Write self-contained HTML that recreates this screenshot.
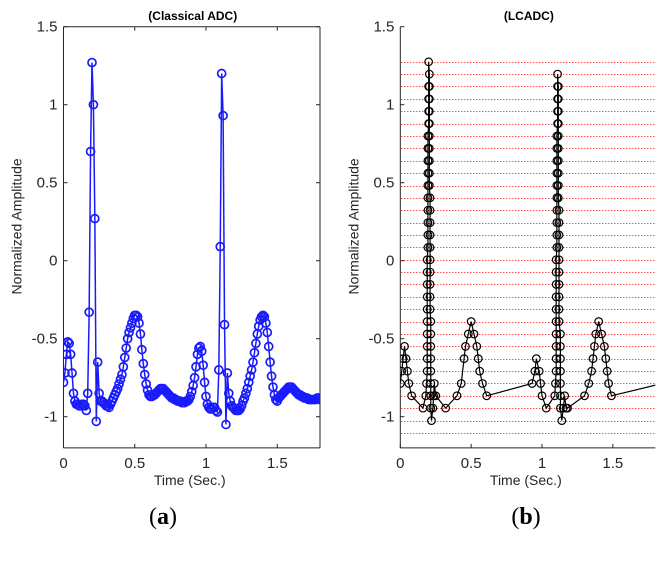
<!DOCTYPE html>
<html><head><meta charset="utf-8"><style>
body{margin:0;background:#fff;}
svg{display:block;font-family:"Liberation Sans",sans-serif;}
</style></head><body>
<svg id="fig" width="672" height="565" viewBox="0 0 672 565"></svg>
<script>
// ---- Data: classical ADC (t = 0..1.80 step 0.01) ----
const adcValues = [-0.78,-0.72,-0.60,-0.52,-0.53,-0.60,-0.72,-0.85,-0.90,-0.92,
-0.92,-0.93,-0.93,-0.92,-0.92,-0.93,-0.96,-0.85,-0.33,0.70,
1.27,1.00,0.27,-1.03,-0.65,-0.85,-0.90,-0.90,-0.91,-0.92,
-0.93,-0.93,-0.94,-0.92,-0.90,-0.88,-0.86,-0.84,-0.82,-0.79,
-0.76,-0.73,-0.68,-0.62,-0.56,-0.50,-0.46,-0.43,-0.40,-0.37,
-0.35,-0.35,-0.36,-0.40,-0.47,-0.57,-0.66,-0.73,-0.79,-0.83,
-0.86,-0.87,-0.87,-0.86,-0.86,-0.85,-0.84,-0.83,-0.82,-0.82,
-0.82,-0.83,-0.84,-0.85,-0.86,-0.87,-0.88,-0.88,-0.89,-0.89,
-0.90,-0.90,-0.90,-0.91,-0.91,-0.91,-0.90,-0.90,-0.89,-0.87,
-0.84,-0.80,-0.75,-0.68,-0.60,-0.56,-0.55,-0.58,-0.67,-0.78,
-0.87,-0.92,-0.94,-0.95,-0.95,-0.94,-0.94,-0.96,-0.97,-0.70,
0.09,1.20,0.93,-0.41,-1.05,-0.72,-0.85,-0.90,-0.93,-0.94,
-0.95,-0.96,-0.96,-0.96,-0.95,-0.93,-0.90,-0.88,-0.85,-0.82,
-0.78,-0.74,-0.70,-0.65,-0.59,-0.53,-0.47,-0.42,-0.38,-0.36,
-0.35,-0.36,-0.40,-0.46,-0.55,-0.65,-0.74,-0.81,-0.86,-0.89,
-0.90,-0.88,-0.87,-0.86,-0.85,-0.84,-0.83,-0.82,-0.81,-0.81,
-0.81,-0.82,-0.83,-0.84,-0.85,-0.86,-0.86,-0.87,-0.87,-0.88,
-0.88,-0.88,-0.89,-0.89,-0.89,-0.89,-0.89,-0.89,-0.88,-0.88,-0.89];
const adcStep = 0.01;
// ---- Data: LCADC quantization levels and samples ----
const levels = [-1.104,-1.025,-0.945,-0.866,-0.787,-0.708,-0.628,-0.549,-0.470,-0.390,
-0.311,-0.232,-0.152,-0.073,0.006,0.085,0.165,0.244,0.323,0.403,
0.482,0.561,0.641,0.720,0.799,0.879,0.958,1.037,1.117,1.196,1.275];
const lcTimes = [0.00,0.01,0.02,0.03,0.04,0.05,0.06,0.08,0.16,0.18,0.185,
0.19,0.19,0.19,0.19,0.19,0.19,0.19,0.19,0.19,0.19,0.195,0.195,0.195,0.195,0.195,0.195,0.195,0.195,0.195,0.195,0.20,0.20,0.20,0.20,0.20,
0.205,0.205,0.205,0.205,0.205,0.205,0.205,0.205,0.205,0.205,0.21,0.21,0.21,0.21,0.21,0.21,0.21,0.21,0.21,0.21,0.215,0.215,0.215,0.215,0.215,0.215,0.215,0.215,0.22,
0.23,0.235,0.24,0.25,0.32,0.40,0.43,0.45,0.46,0.48,0.50,0.52,0.54,0.55,0.56,0.58,0.61,
0.93,0.95,0.96,0.98,0.99,1.00,1.03,1.09,1.095,
1.10,1.10,1.10,1.10,1.10,1.10,1.10,1.10,1.10,1.10,1.105,1.105,1.105,1.105,1.105,1.105,1.105,1.105,1.105,1.105,1.11,1.11,1.11,1.11,1.11,
1.115,1.115,1.115,1.115,1.115,1.115,1.115,1.115,1.115,1.115,1.12,1.12,1.12,1.12,1.12,1.12,1.12,1.12,1.12,1.12,1.13,1.13,1.13,1.13,1.13,1.13,1.13,1.14,
1.15,1.16,1.17,1.18,1.30,1.33,1.35,1.36,1.37,1.38,1.40,1.42,1.44,1.45,1.46,1.47,1.49,1.85];
const lcLevelIdx = [4,5,6,7,6,5,4,3,2,3,4,
5,6,7,8,9,10,11,12,13,14,15,16,17,18,19,20,21,22,23,24,25,26,27,28,30,
29,28,27,26,25,24,23,22,21,20,19,18,17,16,15,14,13,12,11,10,9,8,7,6,5,4,3,2,1,
2,3,4,3,2,3,4,6,7,8,9,8,7,6,5,4,3,
4,5,6,5,4,3,2,3,4,
5,6,7,8,9,10,11,12,13,14,15,16,17,18,19,20,21,22,23,24,25,26,27,28,29,
28,27,26,25,24,23,22,21,20,19,18,17,16,15,14,13,12,11,10,9,8,7,6,5,4,3,2,1,
2,3,2,2,3,4,5,6,7,8,9,8,7,6,5,4,3,4];
const xTicks = [0,0.5,1,1.5];
const xTickLabels = ["0","0.5","1","1.5"];
const yTicks = [-1,-0.5,0,0.5,1,1.5];
const yTickLabels = ["-1","-0.5","0","0.5","1","1.5"];

const NS="http://www.w3.org/2000/svg";
const svg=document.getElementById('fig');
function mk(tag,attrs,parent){const e=document.createElementNS(NS,tag);for(const k in attrs)e.setAttribute(k,attrs[k]);(parent||svg).appendChild(e);return e;}

function panel(x0,xPerUnit,boxed,title,name){
  const yTop=26.7,yPerUnit=156,yMax=1.5,yMin=-1.2,xMax=1.8;
  const sx=v=>x0+v*xPerUnit, sy=v=>yTop+(yMax-v)*yPerUnit;
  const g=mk('g',{});
  
  
  const x1=sx(xMax), yB=sy(yMin);
  const clipId='clip-'+name;
  const cp=mk('clipPath',{id:clipId},g);
  mk('rect',{x:x0,y:yTop,width:x1-x0,height:yB-yTop},cp);
  const ax=mk('g',{stroke:'#262626','stroke-width':1,fill:'none'},g);
  
  
  mk('line',{x1:x0,y1:yTop,x2:x0,y2:yB},ax);
  mk('line',{x1:x0,y1:yB,x2:x1,y2:yB},ax);
  if(boxed){mk('line',{x1:x0,y1:yTop,x2:x1,y2:yTop},ax);mk('line',{x1:x1,y1:yTop,x2:x1,y2:yB},ax);}
  xTicks.forEach((t,i)=>{
    const x=sx(t);
    mk('line',{x1:x,y1:yB,x2:x,y2:yB-4},ax);
    if(boxed) mk('line',{x1:x,y1:yTop,x2:x,y2:yTop+4},ax);
    const tx=mk('text',{x:x,y:yB+20,'text-anchor':'middle','font-size':15,fill:'#262626'},g);
    tx.textContent=xTickLabels[i];
    
    
  });
  yTicks.forEach((t,i)=>{
    const y=sy(t);
    mk('line',{x1:x0,y1:y,x2:x0+4,y2:y},ax);
    if(boxed) mk('line',{x1:x1,y1:y,x2:x1-4,y2:y},ax);
    const tx=mk('text',{x:x0-6,y:y+5,'text-anchor':'end','font-size':15,fill:'#262626'},g);
    tx.textContent=yTickLabels[i];
    
    
  });
  const tt=mk('text',{x:(x0+x1)/2+1,y:20,'text-anchor':'middle','font-size':12,'font-weight':'bold',fill:'#000'},g);
  tt.textContent=title;
  
  
  const xl=mk('text',{x:(x0+x1)/2-2,y:485,'text-anchor':'middle','font-size':14,fill:'#262626'},g);
  xl.textContent='Time (Sec.)';
  
  
  const yl=mk('text',{x:0,y:0,'text-anchor':'middle','font-size':14,fill:'#262626',transform:`translate(${x0-42},${sy(0.22)}) rotate(-90)`},g);
  yl.textContent='Normalized Amplitude';
  
  
  const plot=mk('g',{'clip-path':`url(#${clipId})`},g);
  return {sx,sy,plot,x0,x1};
}

// Panel (a)
const A=panel(63.5,142.5,true,'(Classical ADC)','panel-classical-adc');
let d='';
adcValues.forEach((v,i)=>{d+=(i?'L':'M')+A.sx(i*adcStep).toFixed(2)+','+A.sy(v).toFixed(2);});
const la=mk('path',{d:d,fill:'none',stroke:'#1a1aff','stroke-width':1.5},A.plot);


adcValues.forEach((v,i)=>{
  const c=mk('circle',{cx:A.sx(i*adcStep),cy:A.sy(v),r:4,fill:'none',stroke:'#1a1aff','stroke-width':1.7},A.plot);
  
  
});

// Panel (b)
const B=panel(400.3,141.7,false,'(LCADC)','panel-lcadc');
levels.forEach(v=>{
  const y=Math.round(B.sy(v))+0.5;
  const l=mk('line',{x1:B.x0+1,x2:B.x1,y1:y,y2:y,stroke:'#ff0000','stroke-width':1,'stroke-dasharray':'1,2'},B.plot);
  
  
});
let d2='';
lcTimes.forEach((t,i)=>{d2+=(i?'L':'M')+B.sx(t).toFixed(2)+','+B.sy(levels[lcLevelIdx[i]]).toFixed(2);});
const lb=mk('path',{d:d2,fill:'none',stroke:'#000','stroke-width':1.2},B.plot);


lcTimes.forEach((t,i)=>{
  const c=mk('circle',{cx:B.sx(t),cy:B.sy(levels[lcLevelIdx[i]]),r:3.8,fill:'none',stroke:'#000','stroke-width':1.2},B.plot);
  
  
});

// captions
[['(a)',163,'caption-a'],['(b)',526,'caption-b']].forEach(([s,x,n])=>{
  const t=mk('text',{x:x,y:524,'text-anchor':'middle','font-size':24,'font-family':'"Liberation Serif",serif',fill:'#000'});
  t.innerHTML='(<tspan font-weight="bold">'+s[1]+'</tspan>)';
  
  
});
</script>
</body></html>
